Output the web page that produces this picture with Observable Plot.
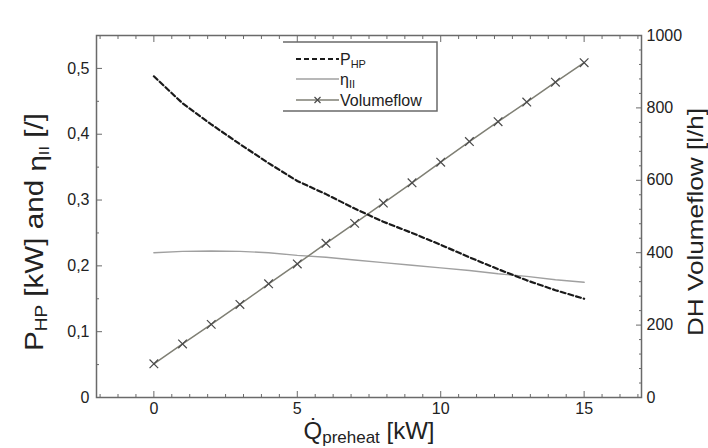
<!DOCTYPE html>
<html><head><meta charset="utf-8">
<script src="https://cdn.jsdelivr.net/npm/d3@7"></script>
<script src="https://cdn.jsdelivr.net/npm/@observablehq/plot@0.6"></script>
<style>
html,body{margin:0;padding:0;background:#fff;}
#chart{width:708px;height:448px;}
</style></head><body><div id="chart"></div>
<script>
// ---- data ----
const qPreheat   = [0,1,2,3,4,5,6,7,8,9,10,11,12,13,14,15];                 // kW
const pHP        = [0.488,0.447,0.415,0.385,0.356,0.329,0.309,0.287,0.267,0.250,0.232,0.213,0.195,0.178,0.163,0.150]; // kW
const etaII      = [0.220,0.222,0.2225,0.222,0.220,0.216,0.213,0.209,0.205,0.201,0.197,0.193,0.188,0.184,0.179,0.175];
const volumeflow = [93,148,202,257,314,369,426,481,537,593,650,707,762,816,871,925]; // l/h
const xTicks     = [0,5,10,15];
const leftTicks  = [0,0.1,0.2,0.3,0.4,0.5];
const rightTicks = [0,200,400,600,800,1000];

const xDomain = [-2,17], yDomain = [0,0.55], rDomain = [0,1000];
const toLeft = v => (v - rDomain[0]) * (yDomain[1]-yDomain[0]) / (rDomain[1]-rDomain[0]) + yDomain[0];
const fromLeft = y => (y - yDomain[0]) * (rDomain[1]-rDomain[0]) / (yDomain[1]-yDomain[0]) + rDomain[0];

const data = qPreheat.map((q,i)=>({q, p:pHP[i], eta:etaII[i], vol:toLeft(volumeflow[i])}));

const xMinor = d3.range(-4,30).map(i=>i*0.625).filter(v=>v>xDomain[0]&&v<xDomain[1]&&!xTicks.includes(v));
const yMinor = d3.range(1,11,2).map(i=>i*0.05);
const rMinor = d3.range(40,1000,40).filter(v=>v%200!==0).map(toLeft);

const fmtLeft = d => d===0 ? "0" : d3.format(".1f")(d).replace(".", ",");
const axisCol = "#6a6a6a";
const font = "'Liberation Sans', Arial, sans-serif";

const svg = Plot.plot({
  width:708, height:448,
  marginLeft:96, marginRight:67, marginTop:35, marginBottom:51,
  x:{domain:xDomain}, y:{domain:yDomain},
  style:{fontFamily:font, fontSize:"16px", color:"#222", background:"#fff"},
  marks:[
    Plot.line(data,{x:"q", y:"eta", stroke:"#a0a0a0", strokeWidth:1.4}),
    Plot.line(data,{x:"q", y:"vol", stroke:"#7f7f74", strokeWidth:1.5}),
    Plot.dot(data,{x:"q", y:"vol", symbol:"times", r:4, stroke:"#4a4a4a", strokeWidth:1.2}),
    Plot.line(data,{x:"q", y:"p", stroke:"#1a1a1a", strokeWidth:2.2, strokeDasharray:"5,3"}),
    // bottom axis
    Plot.axisX(xTicks,{anchor:"bottom", tickSize:0, tickPadding:5, label:null, tickFormat:d=>String(d), fontSize:16}),
    Plot.axisX(xTicks,{anchor:"bottom", tickSize:-6, tickFormat:()=>"", label:null, stroke:axisCol}),
    Plot.axisX(xMinor,{anchor:"bottom", tickSize:-3, tickFormat:()=>"", label:null, stroke:axisCol}),
    // top axis (ticks only)
    Plot.axisX(xTicks,{anchor:"top", tickSize:-6, tickFormat:()=>"", label:null, stroke:axisCol}),
    Plot.axisX(xMinor,{anchor:"top", tickSize:-3, tickFormat:()=>"", label:null, stroke:axisCol}),
    // left axis
    Plot.axisY(leftTicks,{anchor:"left", tickSize:0, tickPadding:7, label:null, tickFormat:fmtLeft, fontSize:16}),
    Plot.axisY(leftTicks,{anchor:"left", tickSize:-6, tickFormat:()=>"", label:null, stroke:axisCol}),
    Plot.axisY(yMinor,{anchor:"left", tickSize:-3, tickFormat:()=>"", label:null, stroke:axisCol}),
    // right axis
    Plot.axisY(rightTicks.map(toLeft),{anchor:"right", tickSize:0, tickPadding:5, label:null, tickFormat:d=>String(Math.round(fromLeft(d))), fontSize:16}),
    Plot.axisY(rightTicks.map(toLeft),{anchor:"right", tickSize:-6, tickFormat:()=>"", label:null, stroke:axisCol}),
    Plot.axisY(rMinor,{anchor:"right", tickSize:-3, tickFormat:()=>"", label:null, stroke:axisCol}),
    Plot.frame({stroke:axisCol, strokeWidth:1.5})
  ]
});
document.getElementById("chart").appendChild(svg);

// ---- axis titles ----
const s = d3.select(svg);
const left = s.append("text").attr("transform","translate(43,232) rotate(-90)")
  .attr("text-anchor","middle").attr("font-family",font).attr("font-size",25).attr("fill","#222")
  .attr("textLength",238).attr("lengthAdjust","spacingAndGlyphs");
left.append("tspan").text("P");
left.append("tspan").attr("font-size",16).attr("dy",4).text("HP");
left.append("tspan").attr("dy",-4).text(" [kW] and ");
left.append("tspan").attr("dy",3).text("η");
left.append("tspan").attr("font-size",14).attr("dy",3).text("II");
left.append("tspan").attr("dy",-6).text(" [/]");

s.append("text").attr("transform","translate(703,222) rotate(-90)")
  .attr("text-anchor","middle").attr("font-family",font).attr("font-size",22).attr("fill","#222")
  .attr("textLength",228).attr("lengthAdjust","spacingAndGlyphs")
  .text("DH Volumeflow [l/h]");

const bottom = s.append("text").attr("x",369).attr("y",439)
  .attr("text-anchor","middle").attr("font-family",font).attr("font-size",24).attr("fill","#222");
bottom.append("tspan").text("Q\u0307");
bottom.append("tspan").attr("font-size",17).attr("dy",4).text("preheat");
bottom.append("tspan").attr("dy",-4).text(" [kW]");

// ---- legend ----
const lg = s.append("g");
const lx0 = 283, lx1 = 437, ly0 = 42, ly1 = 111;
lg.append("rect").attr("x",lx0).attr("y",ly0).attr("width",lx1-lx0).attr("height",ly1-ly0).attr("fill","#fff").attr("stroke","none");
lg.append("path").attr("d",`M${lx0},${ly0}H${lx1}V${ly1}H${lx0}`).attr("fill","none").attr("stroke",axisCol).attr("stroke-width",1.5);
const rows = [
  {y:59, stroke:"#1a1a1a", w:2.2, dash:"5,3", marker:false, label:["P","HP"]},
  {y:79, stroke:"#a0a0a0", w:1.4, dash:null, marker:false, label:["η","II"]},
  {y:100, stroke:"#7f7f74", w:1.5, dash:null, marker:true, label:["Volumeflow",""]}
];
rows.forEach(r=>{
  lg.append("line").attr("x1",296).attr("x2",339).attr("y1",r.y).attr("y2",r.y)
    .attr("stroke",r.stroke).attr("stroke-width",r.w).attr("stroke-dasharray",r.dash);
  if(r.marker){
    const cx=317.5, cy=r.y, d=3;
    lg.append("path").attr("d",`M${cx-d},${cy-d}L${cx+d},${cy+d}M${cx-d},${cy+d}L${cx+d},${cy-d}`).attr("stroke","#4a4a4a").attr("stroke-width",1.2);
  }
  const t = lg.append("text").attr("x",340).attr("y",r.y+6).attr("text-anchor","start")
    .attr("font-family",font).attr("font-size",16).attr("fill","#222");
  t.append("tspan").text(r.label[0]);
  if(r.label[1]) t.append("tspan").attr("font-size",11).attr("dy",3).text(r.label[1]);
});
</script></body></html>
